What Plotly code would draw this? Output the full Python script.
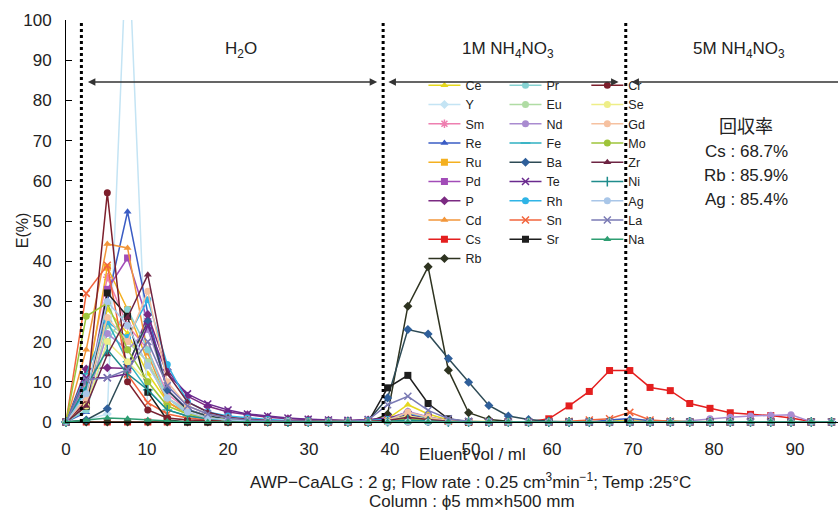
import plotly.graph_objects as go

# Eluent volume (ml) of each fraction
vol = [0, 2.5, 5.1, 7.6, 10.1, 12.5, 15.0, 17.5, 20.0, 22.4,
       24.9, 27.4, 29.9, 32.4, 34.8, 37.3, 39.7, 42.2, 44.7, 47.2,
       49.7, 52.2, 54.6, 57.1, 59.6, 62.1, 64.6, 67.1, 69.6, 72.1,
       74.6, 77.0, 79.5, 82.0, 84.5, 87.0, 89.5, 92.0, 94.5]

Ce = [0, 6, 28, 22, 12, 5, 2.2, 1.2, 0.6, 0.4,
      0.3, 0.2, 0.2, 0.1, 0.1, 0.3, 0.8, 4.3, 2.0, 0.5,
      0.2, 0.1, 0, 0, 0, 0, 0, 0.2, 0.5, 0.3,
      0.2, 0.1, 0.1, 0, 0, 0, 0, 0, 0]
Y = [0, 0.5, 2, 125, 3, 1, 0.5, 0.3, 0.2, 0.1,
     0, 0, 0, 0, 0, 0, 0.1, 0.3, 0.2, 0,
     0, 0, 0, 0, 0, 0, 0, 0, 0, 0,
     0, 0, 0, 0, 0, 0, 0, 0, 0]
Sm = [0, 10, 36, 24, 18, 7, 3, 1.5, 0.8, 0.5,
      0.3, 0.2, 0.1, 0.1, 0.1, 0.2, 0.5, 2.0, 1.0, 0.3,
      0, 0, 0, 0, 0, 0, 0, 0, 0.2, 0.1,
      0, 0, 0, 0, 0, 0, 0, 0, 0]
Re = [0, 2.4, 30, 52.3, 27, 8, 3.2, 1.5, 0.8, 0.5,
      0.3, 0.2, 0.2, 0.1, 0.1, 0.2, 0.4, 1.5, 0.8, 0.2,
      0, 0, 0, 0, 0, 0, 0, 0.5, 0.9, 0.3,
      0.1, 0, 0, 0, 0, 0, 0, 0, 0]
Ru = [0, 8, 38.5, 28, 15, 5, 2, 1, 0.5, 0.3,
      0.2, 0.1, 0.1, 0.1, 0.1, 0.2, 0.3, 1.2, 0.6, 0.2,
      0, 0, 0, 0, 0, 0, 0, 0, 0, 0,
      0, 0, 0, 0, 0, 0, 0, 0, 0]
Pd = [0, 5, 33, 40.8, 25, 8, 3, 1.5, 0.8, 0.5,
      0.3, 0.2, 0.1, 0.1, 0.1, 0.2, 0.4, 1.6, 0.8, 0.2,
      0, 0, 0, 0, 0, 0, 0, 0, 0, 0,
      0, 0, 0, 0, 0, 0, 0, 0, 0]
P = [0, 13.2, 13.5, 13.3, 26.7, 13, 6.4, 3.9, 2.5, 1.8,
     1.2, 0.8, 0.6, 0.4, 0.3, 0.5, 0.8, 2.5, 1.2, 0.3,
     0, 0, 0, 0, 0, 0, 0, 0, 0, 0,
     0, 0, 0, 0, 0, 0, 0, 0, 0]
Cd = [0, 18, 44.3, 43.3, 17, 5, 2, 1, 0.5, 0.3,
      0.2, 0.1, 0.1, 0, 0, 0.1, 0.3, 1.0, 0.5, 0.1,
      0, 0, 0, 0, 0, 0, 0, 0, 0, 0,
      0, 0, 0, 0, 0, 0, 0, 0, 0]
Cs = [0, 0, 0, 0, 0, 0, 0, 0, 0, 0,
      0, 0, 0, 0, 0, 0, 0.3, 1.2, 1.0, 0.2,
      0, 0, 0, 0, 0.8, 4.0, 7.6, 12.8, 12.8, 8.6,
      7.8, 4.6, 3.4, 2.3, 1.9, 1.6, 1.0, 0.1, 0]
Rb = [0, 0, 0, 0, 0, 0, 0, 0, 0, 0,
      0, 0, 0, 0, 0, 0, 1.9, 28.8, 38.6, 12.9,
      2.3, 0.6, 0.2, 0, 0, 0, 0, 0, 0, 0,
      0, 0, 0, 0, 0, 0, 0, 0, 0]
Pr = [0, 3, 20, 28, 18, 6, 2, 1, 0.5, 0.3,
      0.2, 0.1, 0.1, 0, 0, 0.1, 0.2, 1.5, 0.8, 0.2,
      0, 0, 0, 0, 0, 0, 0, 0, 0, 0,
      0, 0, 0, 0, 0, 0, 0, 0, 0]
Eu = [0, 4, 24, 20, 15, 6, 3, 1.5, 0.8, 0.5,
      0.3, 0.2, 0.1, 0, 0, 0.1, 0.3, 1.8, 0.9, 0.2,
      0, 0, 0, 0, 0, 0, 0, 0, 0, 0,
      0, 0, 0, 0, 0, 0, 0, 0, 0]
Nd = [0, 5, 22, 18, 23, 9, 4, 2, 1, 0.6,
      0.4, 0.3, 0.2, 0.1, 0.1, 0.2, 0.5, 2.6, 1.3, 0.3,
      0, 0, 0, 0, 0, 0, 0, 0, 0, 0,
      0, 0.3, 0.8, 1.2, 1.5, 1.7, 1.8, 0.1, 0]
Fe = [0, 12, 25, 15, 8, 3, 1.5, 0.8, 0.5, 0.3,
      0.2, 0.1, 0.1, 0, 0, 0.1, 0.2, 0.8, 0.4, 0.1,
      0, 0, 0, 0, 0, 0, 0, 0, 0, 0,
      0, 0, 0, 0, 0, 0, 0, 0, 0]
Ba = [0, 0.5, 3.3, 14.3, 25, 8, 3, 1.5, 0.8, 0.5,
      0.3, 0.2, 0.2, 0.1, 0.1, 0.3, 6.0, 23, 21.9, 15.8,
      9.9, 4.1, 1.5, 0.6, 0.2, 0, 0, 0, 0, 0,
      0, 0, 0, 0, 0, 0, 0, 0, 0]
Te = [0, 11, 11, 12, 24, 12, 7, 4.5, 3, 2,
      1.5, 1, 0.7, 0.5, 0.4, 0.6, 1.0, 1.8, 1.0, 0.3,
      0.1, 0, 0, 0, 0, 0, 0, 0, 0, 0,
      0, 0, 0, 0, 0, 0, 0, 0, 0]
Rh = [0, 8, 25, 21, 30.4, 14.3, 5, 2.5, 1.5, 1,
      0.6, 0.4, 0.3, 0.2, 0.2, 0.4, 0.6, 2.2, 1.1, 0.3,
      0, 0, 0, 0, 0, 0, 0, 0, 0, 0,
      0, 0, 0, 0, 0, 0, 0, 0, 0]
Sn = [0, 32, 39, 11.8, 4.8, 2, 1, 0.5, 0.3, 0.2,
      0.1, 0.1, 0, 0, 0, 0.1, 0.3, 1.0, 0.6, 0.2,
      0, 0, 0, 0, 0, 0.2, 0.5, 0.8, 2.4, 0.5,
      0.2, 0, 0, 0, 0, 0, 0, 0, 0]
Sr = [0, 3.9, 32.1, 26.3, 7.4, 0.5, 0, 0, 0, 0,
      0, 0, 0, 0, 0, 0, 8.5, 11.6, 4.6, 0.8,
      0, 0, 0, 0, 0, 0, 0, 0, 0, 0,
      0, 0, 0, 0, 0, 0, 0, 0, 0]
Cr = [0, 5, 57, 10, 3, 1, 0.5, 0.3, 0.2, 0.1,
      0, 0, 0, 0, 0, 0, 0, 0, 0, 0,
      0, 0, 0, 0, 0, 0, 0, 0, 0, 0,
      0, 0, 0, 0, 0, 0, 0, 0, 0]
Se = [0, 4, 20, 15, 10, 4, 2, 1, 0.5, 0.3,
      0.2, 0.1, 0, 0, 0, 0.1, 0.3, 1.5, 0.7, 0.2,
      0, 0, 0, 0, 0, 0, 0, 0, 0, 0,
      0, 0, 0, 0, 0, 0, 0, 0, 0]
Gd = [0, 6, 26, 20, 32.5, 10, 4, 2, 1, 0.6,
      0.4, 0.3, 0.2, 0.1, 0.1, 0.2, 0.4, 2.4, 1.2, 0.3,
      0, 0, 0, 0, 0, 0, 0, 0, 0, 0,
      0, 0, 0, 0, 0, 0, 0, 0, 0]
Mo = [0, 26.3, 29.6, 18, 10, 4, 2, 1, 0.5, 0.3,
      0.2, 0.1, 0.1, 0, 0, 0.1, 0.2, 0.8, 0.4, 0.1,
      0, 0, 0, 0, 0, 0, 0, 0, 0, 0,
      0, 0, 0, 0, 0, 0, 0, 0, 0]
Zr = [0, 4, 16.8, 26, 36.6, 12, 5, 2.5, 1.2, 0.7,
      0.4, 0.3, 0.2, 0.1, 0.1, 0.2, 0.4, 1.2, 0.6, 0.2,
      0, 0, 0, 0, 0, 0, 0, 0, 0, 0,
      0, 0, 0, 0, 0, 0, 0, 0, 0]
Ni = [0, 9, 18, 12, 8, 3, 1.5, 0.8, 0.4, 0.2,
      0.1, 0, 0, 0, 0, 0, 0.1, 0.5, 0.2, 0,
      0, 0, 0, 0, 0, 0, 0, 0, 0, 0,
      0, 0, 0, 0, 0, 0, 0, 0, 0]
Ag = [0, 7, 30, 24, 14, 6, 2.5, 1, 0.5, 0.3,
      0.2, 0.1, 0, 0, 0, 0, 0, 0, 0, 0,
      0, 0, 0, 0, 0, 0, 0, 0, 0, 0,
      0, 0, 0, 0, 0, 0, 0, 0, 0]
La = [0, 10.5, 11, 13, 20, 9, 4, 2, 1, 0.5,
      0.3, 0.2, 0.2, 0.1, 0.1, 0.5, 4.3, 6.4, 2.9, 0.8,
      0.2, 0, 0, 0, 0, 0, 0, 0, 0, 0,
      0, 0, 0, 0, 0, 0, 0, 0, 0]
Na = [0, 0.5, 1, 0.8, 0.5, 0.2, 0, 0, 0, 0,
      0, 0, 0, 0, 0, 0, 0, 0, 0, 0,
      0, 0, 0, 0, 0, 0, 0, 0, 0, 0,
      0, 0, 0, 0, 0, 0, 0, 0, 0]

# legend column 1, 2, 3
col1 = [("Ce", Ce), ("Y", Y), ("Sm", Sm), ("Re", Re), ("Ru", Ru),
        ("Pd", Pd), ("P", P), ("Cd", Cd), ("Cs", Cs), ("Rb", Rb)]
col2 = [("Pr", Pr), ("Eu", Eu), ("Nd", Nd), ("Fe", Fe), ("Ba", Ba),
        ("Te", Te), ("Rh", Rh), ("Sn", Sn), ("Sr", Sr)]
col3 = [("Cr", Cr), ("Se", Se), ("Gd", Gd), ("Mo", Mo), ("Zr", Zr),
        ("Ni", Ni), ("Ag", Ag), ("La", La), ("Na", Na)]

style = {
    "Ce": ("#e6d81e", "#e6d81e", "triangle-up"),
    "Y":  ("#c4e4f4", "#c4e4f4", "diamond"),
    "Sm": ("#ee7fb0", "#ee7fb0", "asterisk-open"),
    "Re": ("#3a5cc4", "#3a5cc4", "triangle-up"),
    "Ru": ("#f4b020", "#f4b020", "square"),
    "Pd": ("#a24cb8", "#a24cb8", "square"),
    "P":  ("#7b2a82", "#7b2a82", "diamond"),
    "Cd": ("#f2963a", "#f2963a", "triangle-up"),
    "Cs": ("#e41f1f", "#e41f1f", "square"),
    "Rb": ("#2e3320", "#2e3320", "diamond"),
    "Pr": ("#86d2d2", "#86d2d2", "circle"),
    "Eu": ("#b0dca4", "#b0dca4", "circle"),
    "Nd": ("#a98bd0", "#a98bd0", "circle"),
    "Fe": ("#2fb0c2", "#2fb0c2", "line-ew-open"),
    "Ba": ("#2d4a55", "#2f5f9a", "diamond"),
    "Te": ("#6a2a8e", "#6a2a8e", "x-thin-open"),
    "Rh": ("#2fb4e6", "#2fb4e6", "circle"),
    "Sn": ("#f2643c", "#f2643c", "x-thin-open"),
    "Sr": ("#1e1e1e", "#1e1e1e", "square"),
    "Cr": ("#7d1f2c", "#7d1f2c", "circle"),
    "Se": ("#eeee88", "#eeee88", "circle"),
    "Gd": ("#f6c1a0", "#f6c1a0", "circle"),
    "Mo": ("#9ec43a", "#9ec43a", "circle"),
    "Zr": ("#6d2443", "#6d2443", "triangle-up"),
    "Ni": ("#1f8c8c", "#1f8c8c", "line-ns-open"),
    "Ag": ("#a9c6e8", "#a9c6e8", "circle"),
    "La": ("#7a7ab4", "#7a7ab4", "x-thin-open"),
    "Na": ("#2e9e72", "#2e9e72", "triangle-up"),
}

fig = go.Figure()
for legname, col in (("legend", col1), ("legend2", col2), ("legend3", col3)):
    for name, vals in col:
        lc, mc, sym = style[name]
        open_sym = sym.endswith("-open")
        fig.add_trace(go.Scatter(
            x=vol, y=vals, name=name, mode="lines+markers",
            line=dict(color=lc, width=1.5),
            marker=dict(symbol=sym, size=7, color=mc,
                        line=dict(color=mc, width=1.5 if open_sym else 0)),
            legend=legname,
            cliponaxis=(name == "Y"),
        ))

FONT = "Liberation Sans, Arial, sans-serif"
TXT = "#222222"

def legend_cfg(xp):
    return dict(x=xp, y=0.874, xanchor="left", yanchor="top",
                bgcolor="rgba(0,0,0,0)", borderwidth=0,
                font=dict(family=FONT, size=12.5, color=TXT),
                itemwidth=32, tracegroupgap=0, traceorder="normal")

# vertical dotted separators
shapes = []
for xv in (1.9, 39.15, 69.1):
    shapes.append(dict(type="line", xref="x", yref="y", x0=xv, x1=xv, y0=0, y1=100,
                       line=dict(color="black", width=3, dash="dot")))

ann = []
arrow_common = dict(xref="x", yref="y", axref="x", ayref="y", text="",
                    showarrow=True, arrowcolor="#333333", arrowwidth=1.5,
                    arrowhead=2, startarrowhead=2, arrowsize=1, startarrowsize=1,
                    standoff=0, startstandoff=0)
ann.append(dict(x=2.7, y=84.6, ax=38.6, ay=84.6, arrowside="end+start", **arrow_common))
ann.append(dict(x=39.8, y=84.6, ax=68.4, ay=84.6, arrowside="end+start", **arrow_common))
ann.append(dict(x=69.8, y=84.6, ax=97, ay=84.6, arrowside="end", **arrow_common))

def txt(x, y, t, size=17, xref="x", yref="y", angle=0, family=FONT):
    return dict(x=x, y=y, xref=xref, yref=yref, text=t, showarrow=False,
                xanchor="center", yanchor="middle", textangle=angle,
                font=dict(family=family, size=size, color=TXT))

ann.append(txt(21.6, 92.5, "H<sub>2</sub>O"))
ann.append(txt(54.6, 92.5, "1M NH<sub>4</sub>NO<sub>3</sub>"))
ann.append(txt(83.1, 92.5, "5M NH<sub>4</sub>NO<sub>3</sub>"))
ann.append(txt(84.0, 73.8, "回収率", size=18, family="Noto Sans CJK JP"))
ann.append(txt(84.0, 67.2, "Cs : 68.7%"))
ann.append(txt(84.0, 61.2, "Rb : 85.9%"))
ann.append(txt(84.0, 55.3, "Ag : 85.4%"))
ann.append(txt(-0.057, 0.477, "E(%)", size=16, xref="paper", yref="paper", angle=-90))
ann.append(txt(0.526, -0.081, "Eluent vol / ml", xref="paper", yref="paper"))
ann.append(txt(0.5246, -0.148,
               "AWP−CaALG : 2 g; Flow rate : 0.25 cm<sup>3</sup>min<sup>−1</sup>; Temp :25°C",
               xref="paper", yref="paper"))
ann.append(txt(0.526, -0.1975, "Column : ϕ5 mm×h500 mm", xref="paper", yref="paper"))

fig.update_layout(
    width=838, height=515,
    margin=dict(l=66, r=0, t=20, b=93),
    paper_bgcolor="white", plot_bgcolor="white",
    font=dict(family=FONT, size=17, color=TXT),
    legend=legend_cfg(0.463),
    legend2=legend_cfg(0.568),
    legend3=legend_cfg(0.674),
    shapes=shapes, annotations=ann,
    xaxis=dict(range=[0, 95.3], tickvals=[0, 10, 20, 30, 40, 50, 60, 70, 80, 90],
               showgrid=False, zeroline=False, showline=True, linecolor="black",
               linewidth=1, ticks="", ticklabelstandoff=12,
               tickfont=dict(size=17, color=TXT)),
    yaxis=dict(range=[0, 100], dtick=10, showgrid=False, zeroline=False,
               showline=True, linecolor="black", linewidth=1,
               ticks="inside", ticklen=6, tickcolor="black",
               ticklabelstandoff=10, tickfont=dict(size=17, color=TXT)),
)

fig.write_html("out.html")
